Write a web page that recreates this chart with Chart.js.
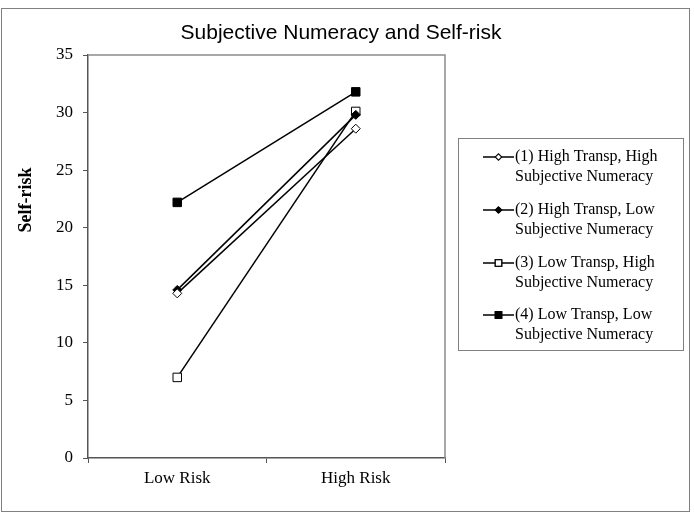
<!DOCTYPE html>
<html>
<head>
<meta charset="utf-8">
<script src="https://cdn.jsdelivr.net/npm/chart.js@4/dist/chart.umd.min.js"></script>
<style>
  html, body { margin: 0; padding: 0; background: #fff; }
  #wrap { width: 694px; height: 523px; }
</style>
</head>
<body>
<div id="wrap"><canvas id="chart" width="694" height="523"></canvas></div>
<script>
// datos
const categories = ['Low Risk', 'High Risk'];
const serie1 = [14.3, 28.6];   // (1) High Transp, High
const serie2 = [14.6, 29.8];   // (2) High Transp, Low
const serie3 = [7.0, 30.1];    // (3) Low Transp, High
const serie4 = [22.2, 31.8];   // (4) Low Transp, Low
const legendLines = [
    ['(1) High Transp, High', 'Subjective Numeracy'],
    ['(2) High Transp, Low', 'Subjective Numeracy'],
    ['(3) Low Transp, High', 'Subjective Numeracy'],
    ['(4) Low Transp, Low', 'Subjective Numeracy']
];
const chartTitle = 'Subjective Numeracy and Self-risk';
const yTitle = 'Self-risk';

const serif = '"Liberation Serif", "Times New Roman", serif';
const sans = '"Liberation Sans", Arial, sans-serif';

function makeSet(label, data, style, fill, radius) {
    return {
        label: label,
        data: data,
        borderColor: '#000',
        borderWidth: 1.5,
        pointStyle: style,
        pointRadius: radius,
        pointBackgroundColor: fill,
        pointBorderColor: '#000',
        pointBorderWidth: 1,
        tension: 0
    };
}

// marco exterior, titulo, titulo del eje y leyenda
const decoPlugin = {
    id: 'deco',
    beforeDatasetsDraw(chart) {
        const ctx = chart.ctx;
        const a = chart.chartArea;
        ctx.save();
        ctx.strokeStyle = '#8c8c8c';
        ctx.lineWidth = 1.5;
        ctx.beginPath();
        ctx.moveTo(a.left, a.top);
        ctx.lineTo(a.right, a.top);
        ctx.lineTo(a.right, a.bottom);
        ctx.stroke();
        ctx.restore();
    },
    afterDraw(chart) {
        const ctx = chart.ctx;
        ctx.save();
        // marco
        ctx.strokeStyle = '#808080';
        ctx.lineWidth = 1;
        ctx.strokeRect(1.5, 8.5, 688, 503);

        // titulo
        ctx.fillStyle = '#000';
        ctx.font = '21px ' + sans;
        ctx.textAlign = 'center';
        ctx.textBaseline = 'middle';
        ctx.fillText(chartTitle, 341, 33);

        // titulo eje y
        ctx.save();
        ctx.translate(26, 200);
        ctx.rotate(-Math.PI / 2);
        ctx.font = 'bold 18px ' + serif;
        ctx.fillText(yTitle, 0, 0);
        ctx.restore();

        // leyenda
        ctx.strokeStyle = '#808080';
        ctx.strokeRect(458.5, 138.5, 225, 212);
        const rows = [157, 210, 263, 315];
        ctx.font = '16px ' + serif;
        ctx.textAlign = 'left';
        chart.data.datasets.forEach((ds, i) => {
            const y = rows[i];
            ctx.strokeStyle = '#000';
            ctx.lineWidth = 1.5;
            ctx.beginPath();
            ctx.moveTo(483, y);
            ctx.lineTo(514, y);
            ctx.stroke();
            Chart.helpers.drawPoint(ctx, {
                pointStyle: ds.pointStyle,
                radius: ds.pointRadius - 1.5,
                borderWidth: 1,
                rotation: 0
            }, 498.5, y);
            ctx.fillStyle = ds.pointBackgroundColor;
            ctx.strokeStyle = '#000';
            ctx.lineWidth = 1;
            ctx.fill();
            ctx.stroke();
            ctx.fillStyle = '#000';
            ctx.fillText(legendLines[i][0], 515, y);
            ctx.fillText(legendLines[i][1], 515, y + 19.5);
        });
        ctx.restore();
    }
};

const ctx = document.getElementById('chart');
new Chart(ctx, {
    type: 'line',
    data: {
        labels: categories,
        datasets: [
            makeSet(legendLines[0].join(' '), serie1, 'rectRot', '#fff', 4.5),
            makeSet(legendLines[1].join(' '), serie2, 'rectRot', '#000', 4.5),
            makeSet(legendLines[2].join(' '), serie3, 'rect', '#fff', 6),
            makeSet(legendLines[3].join(' '), serie4, 'rect', '#000', 6)
        ]
    },
    options: {
        responsive: false,
        animation: false,
        layout: {
            padding: { left: 0, top: 55, right: 249, bottom: 0 }
        },
        plugins: {
            legend: { display: false },
            title: { display: false },
            tooltip: { enabled: false }
        },
        scales: {
            x: {
                offset: true,
                grid: {
                    offset: true,
                    drawOnChartArea: false,
                    tickLength: 5,
                    color: '#555'
                },
                border: { color: '#555', width: 1.5 },
                ticks: {
                    color: '#000',
                    font: { family: serif, size: 17 },
                    padding: 5
                },
                afterFit(scale) { scale.height = 65; }
            },
            y: {
                min: 0,
                max: 35,
                grid: {
                    drawOnChartArea: false,
                    tickLength: 5,
                    color: '#555'
                },
                border: { color: '#555', width: 1.5 },
                ticks: {
                    stepSize: 5,
                    color: '#000',
                    font: { family: serif, size: 17 },
                    padding: 10
                },
                afterFit(scale) { scale.width = 88; }
            }
        }
    },
    plugins: [decoPlugin]
});
</script>
</body>
</html>
